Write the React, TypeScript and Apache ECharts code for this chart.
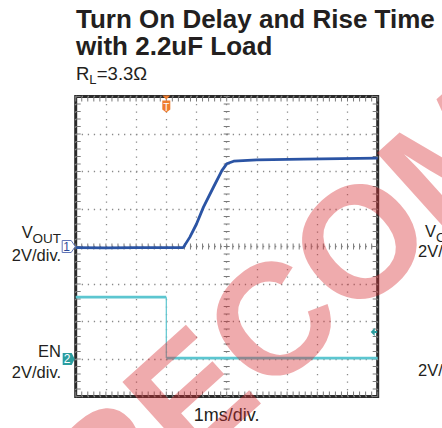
import React, { useEffect, useRef } from 'react';
import * as echarts from 'echarts';

// ---- data ----
const titleLines = ['Turn On Delay and Rise Time', 'with 2.2uF Load'];
const xLabel = '1ms/div.';
const voltsPerDiv = '2V/div.';
const watermark = 'RECOMMENDED';

// VOUT trace (time in ms, volts)
const vTimes = [0, 1, 2, 3, 3.56, 3.78, 4.0, 4.23, 4.56, 4.84, 5.0, 5.23, 6.0, 7.55, 10];
const vOut = [-0.06, -0.07, -0.06, -0.06, -0.06, 0.5, 1.2, 2.1, 3.16, 4.05, 4.41, 4.55, 4.62, 4.66, 4.71];

// EN trace (time in ms, volts)
const enTimes = [0, 3.0, 3.0, 10];
const enVolts = [3.3, 3.3, 0.05, 0.05];

const triggerTime = 3.0;
const triggerLevel = 1.44; // EN volts

const FONT = '"Liberation Sans", Arial, Helvetica, sans-serif';
const TXT = '#231f20';
const VOUT_COLOR = '#2b54a4';
const EN_COLOR = '#5cc6d0';
const TEAL = '#2a9d9f';
const ORANGE = '#ef7d2e';

function mid(baseline: number, size: number) {
  return baseline - 0.3465 * size;
}

export default function App() {
  const ref = useRef<HTMLDivElement>(null);
  useEffect(() => {
    const chart = echarts.init(ref.current!, undefined, { renderer: 'svg' });
    const vData = vTimes.map((t, i) => [t, vOut[i]]);
    const enHigh = [[enTimes[0], enVolts[0]], [enTimes[1], enVolts[1]]];
    const enEdge = [[enTimes[1], enVolts[1]], [enTimes[2], enVolts[2]]];
    const enLow = [[enTimes[2], enVolts[2]], [enTimes[3], enVolts[3]]];

    chart.setOption({
      animation: false,
      backgroundColor: '#ffffff',
      grid: {
        left: 75.7, top: 96.5, width: 302, height: 300,
        show: true, borderColor: '#2a2a2a', borderWidth: 3, backgroundColor: 'transparent',
      },
      xAxis: {
        type: 'value', min: 0, max: 10, interval: 1,
        axisLabel: { show: false }, axisTick: { show: false }, axisLine: { show: false },
        splitLine: { show: true, lineStyle: { color: '#8a8a8a', width: 1.3, type: [1.3, 6.2] } },
      },
      yAxis: [
        {
          type: 'value', min: -8, max: 8, interval: 2,
          axisLabel: { show: false }, axisTick: { show: false }, axisLine: { show: false },
          splitLine: { show: true, lineStyle: { color: '#8a8a8a', width: 1.3, type: [1.3, 4.74] } },
        },
        {
          type: 'value', min: -2, max: 14, interval: 2,
          axisLabel: { show: false }, axisTick: { show: false }, axisLine: { show: false },
          splitLine: { show: false },
        },
      ],
      series: [
        {
          type: 'line', data: vData, xAxisIndex: 0, yAxisIndex: 0, showSymbol: false,
          lineStyle: { color: VOUT_COLOR, width: 2.8 }, z: 5, silent: true,
        },
        {
          type: 'line', data: enHigh, xAxisIndex: 0, yAxisIndex: 1, showSymbol: false,
          lineStyle: { color: EN_COLOR, width: 2.8 }, z: 4, silent: true,
        },
        {
          type: 'line', data: enEdge, xAxisIndex: 0, yAxisIndex: 1, showSymbol: false,
          lineStyle: { color: EN_COLOR, width: 1.2 }, z: 4, silent: true,
        },
        {
          type: 'line', data: enLow, xAxisIndex: 0, yAxisIndex: 1, showSymbol: false,
          lineStyle: { color: EN_COLOR, width: 2.8 }, z: 4, silent: true,
        },
        {
          type: 'custom', xAxisIndex: 0, yAxisIndex: 0, data: [[5, 0]], silent: true, z: 2,
          renderItem: (_params: any, api: any) => {
            const children: any[] = [];
            const st = { stroke: '#7a7a7a', lineWidth: 1 };
            const tl = api.coord([0, 8]);
            const br = api.coord([10, -8]);
            const c = api.coord([5, 0]);
            for (let i = 0; i <= 50; i++) {
              const p = api.coord([i * 0.2, 0]);
              children.push({ type: 'line', shape: { x1: p[0], y1: tl[1], x2: p[0], y2: tl[1] + 5 }, style: st });
              children.push({ type: 'line', shape: { x1: p[0], y1: br[1], x2: p[0], y2: br[1] - 5 }, style: st });
              children.push({ type: 'line', shape: { x1: p[0], y1: c[1] - 3, x2: p[0], y2: c[1] + 3 }, style: st });
            }
            for (let i = 0; i <= 40; i++) {
              const p = api.coord([5, -8 + i * 0.4]);
              children.push({ type: 'line', shape: { x1: tl[0], y1: p[1], x2: tl[0] + 5, y2: p[1] }, style: st });
              children.push({ type: 'line', shape: { x1: br[0], y1: p[1], x2: br[0] - 5, y2: p[1] }, style: st });
              children.push({ type: 'line', shape: { x1: c[0] - 3, y1: p[1], x2: c[0] + 3, y2: p[1] }, style: st });
            }
            return { type: 'group', children };
          },
        },
      ],
    });

    const v0 = chart.convertToPixel({ seriesIndex: 0 }, [0, 0]) as number[];
    const e0 = chart.convertToPixel({ seriesIndex: 1 }, [0, 0]) as number[];
    const trg = chart.convertToPixel({ seriesIndex: 0 }, [triggerTime, 8]) as number[];
    const lvl = chart.convertToPixel({ seriesIndex: 1 }, [10, triggerLevel]) as number[];
    const xMid = (chart.convertToPixel({ seriesIndex: 0 }, [5, 0]) as number[])[0];

    const t = (text: string, x: number, baseline: number, size: number, align: string, bold = false, fill = TXT) => ({
      type: 'text', x, y: mid(baseline, size), z: 20,
      style: { text, font: `${bold ? 'bold ' : ''}${size}px ${FONT}`, fill, align, textAlign: align, verticalAlign: 'middle' },
    });

    const tipX1 = v0[0] - 0.5;
    const tipY1 = v0[1];
    const tipX2 = e0[0] - 1;
    const tipY2 = e0[1];

    const elements: any[] = [
      t(titleLines[0], 76, 28.5, 26, 'left', true),
      t(titleLines[1], 76, 55.5, 26, 'left', true),
      t('R', 76, 80, 18.5, 'left'),
      t('L', 89.3, 84, 13, 'left'),
      t('=3.3Ω', 96.8, 80, 18.5, 'left'),
      // left labels
      t('OUT', 61, 243.5, 13.5, 'right'),
      t('V', 32.8, 237.5, 16.5, 'right'),
      t(voltsPerDiv, 61, 260.5, 16.5, 'right'),
      t('EN', 61, 356.5, 16.5, 'right'),
      t(voltsPerDiv, 61, 377.5, 16.5, 'right'),
      // neighbouring chart labels cut by the edge
      t('V', 425, 237, 16.5, 'left'),
      t('OUT', 436, 242, 13.5, 'left'),
      t(voltsPerDiv, 418, 257, 16.5, 'left'),
      t(voltsPerDiv, 418, 376, 16.5, 'left'),
      // x label
      t(xLabel, xMid, 421.5, 18, 'center'),
      // channel 1 marker
      {
        type: 'polygon', z: 20,
        shape: { points: [[tipX1 - 13, tipY1 - 6], [tipX1 - 4, tipY1 - 6], [tipX1, tipY1], [tipX1 - 4, tipY1 + 6], [tipX1 - 13, tipY1 + 6]] },
        style: { fill: '#ffffff', stroke: '#6276b8', lineWidth: 1 },
      },
      t('1', tipX1 - 8.5, tipY1 + 4.2, 12, 'center', false, '#2b4a9a'),
      // channel 2 marker
      {
        type: 'polygon', z: 20,
        shape: { points: [[tipX2 - 12, tipY2 - 6], [tipX2 - 3, tipY2 - 6], [tipX2, tipY2], [tipX2 - 3, tipY2 + 6], [tipX2 - 12, tipY2 + 6]] },
        style: { fill: TEAL },
      },
      t('2', tipX2 - 7.5, tipY2 + 4.2, 12, 'center', false, '#ffffff'),
      // trigger position marker
      {
        type: 'polygon', z: 20,
        shape: { points: [[trg[0] - 4, trg[1] - 1], [trg[0] + 4, trg[1] - 1], [trg[0], trg[1] + 3]] },
        style: { fill: ORANGE },
      },
      {
        type: 'polygon', z: 20,
        shape: { points: [[trg[0] - 4, trg[1] + 4], [trg[0] + 4, trg[1] + 4], [trg[0] + 4, trg[1] + 13], [trg[0], trg[1] + 16], [trg[0] - 4, trg[1] + 13]] },
        style: { fill: ORANGE },
      },
      t('T', trg[0], trg[1] + 14, 10, 'center', false, '#ffffff'),
      // trigger level arrow
      {
        type: 'polygon', z: 20,
        shape: { points: [[lvl[0] - 7, lvl[1]], [lvl[0] - 3, lvl[1] - 4], [lvl[0] - 3, lvl[1] + 4]] },
        style: { fill: TEAL },
      },
      {
        type: 'rect', z: 20,
        shape: { x: lvl[0] - 3.5, y: lvl[1] - 1, width: 3, height: 2 },
        style: { fill: TEAL },
      },
      // watermark
      {
        type: 'text', x: 65.8, y: 505.3, rotation: (42 * Math.PI) / 180, z: 100,
        style: { text: watermark, font: `bold 158px ${FONT}`, fill: 'rgba(215,45,50,0.4)', align: 'left', textAlign: 'left', verticalAlign: 'middle' },
      },
    ];

    chart.setOption({ graphic: { elements } });
    return () => chart.dispose();
  }, []);

  return (
    <div
      ref={ref}
      style={{ position: 'fixed', left: 0, top: 0, width: 442, height: 428, background: '#ffffff' }}
    />
  );
}
